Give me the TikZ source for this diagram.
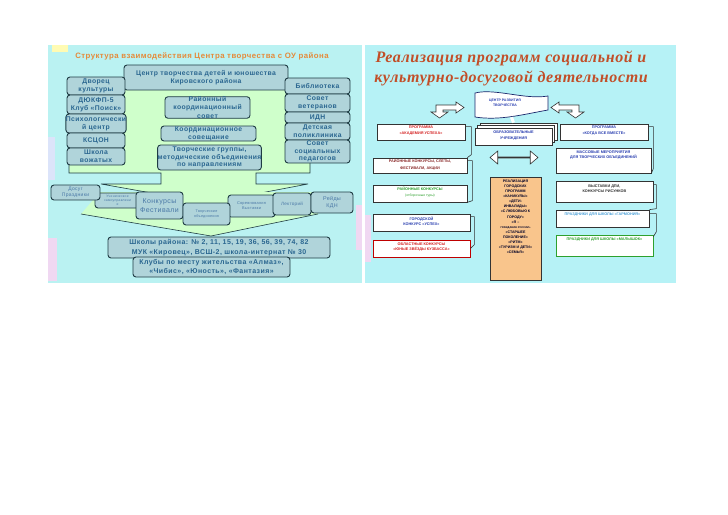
\documentclass[tikz,border=0pt]{standalone}
\usepackage{fontspec}
\setmainfont{Liberation Sans}
\newfontfamily\lsans[LetterSpace=6]{Liberation Sans}
\newfontfamily\rtfont[LetterSpace=4]{Liberation Serif}
\usetikzlibrary{shapes.arrows,shadows,calc}
\definecolor{cyanL}{HTML}{BAF2F2}
\definecolor{cyanR}{HTML}{B6F2F6}
\definecolor{greenA}{HTML}{CFFFCB}
\definecolor{boxfill}{HTML}{B0D4DA}
\definecolor{boxline}{HTML}{1F3C44}
\definecolor{boxtext}{HTML}{2A6690}
\definecolor{rowtext}{HTML}{4A78A6}
\definecolor{ttlorange}{HTML}{E58A3A}
\definecolor{rtitlec}{HTML}{C24E28}
\definecolor{rline}{HTML}{333333}
\definecolor{redtxt}{HTML}{D42020}
\definecolor{bluetxt}{HTML}{2A3FB0}
\definecolor{greentxt}{HTML}{2EA02E}
\definecolor{darkredtxt}{HTML}{8A2A2A}
\definecolor{ltblue}{HTML}{4AA0D8}
\definecolor{orangefill}{HTML}{F9C58C}
\definecolor{lav}{HTML}{F0D8F2}
\definecolor{lav2}{HTML}{DCE4FA}
\begin{document}
\begin{tikzpicture}[x=1pt,y=-1pt,
  lbox/.style={draw=boxline, fill=boxfill, rounded corners=3pt, line width=0.9pt, inner sep=0pt, align=center, text=boxtext, font=\lsans\fontsize{6.8}{7.8}\selectfont\bfseries},
  sbox/.style={lbox, text=rowtext, font=\lsans\fontsize{4}{4.6}\selectfont},
  rbox/.style={draw=rline, fill=white, line width=0.7pt, inner sep=0pt},
  rtxt/.style={inner sep=0pt, align=center, font=\fontsize{3.8}{5.2}\selectfont\bfseries},
  otext/.style={inner sep=0pt, align=center, text=black!85!blue, font=\fontsize{3.6}{5.1}\selectfont\bfseries},
  brk/.style={draw=rline, line width=0.6pt},
  hollow/.style={draw=rline, fill=white, line width=0.6pt}
]
\fill[white] (0,0) rectangle (728,514);
\useasboundingbox (0,0) rectangle (728,514);

% ================= LEFT PANEL =================
\fill[cyanL] (48,45) rectangle (362,283);
\fill[lav] (48,238) rectangle (57,281);
\fill[lav2] (48,137) rectangle (55,180);
\fill[lav] (356,205) rectangle (362,250);
\fill[yellow!30] (52,45) rectangle (68,52);

\node[inner sep=0pt, text=ttlorange, font=\lsans\fontsize{7.8}{9}\selectfont\bfseries] (lt) at (202,56) {Структура взаимодействия Центра творчества с ОУ района};

% green big arrow
\fill[greenA, draw=boxline, line width=0.6pt] (69,85) -- (310,85) -- (310,173) -- (256,173) -- (256,184) -- (308,184) -- (208,203) -- (101,184) -- (161,184) -- (161,173) -- (69,173) -- cycle;
% lower band and arrow head
\fill[greenA] (100,192) -- (318,192) -- (318,214) -- (81,214) -- cycle;
\fill[greenA] (81,214) -- (318,214) -- (211,236) -- cycle;
\draw[boxline, line width=0.6pt] (81,214) -- (211,236) -- (318,214);

\node[lbox, minimum width=164pt, minimum height=25pt] (ctr) at (206,77.5) {Центр творчества детей и юношества\\Кировского района};

% left column
\node[lbox, minimum width=58pt, minimum height=18pt] (dvorec) at (96,86) {Дворец\\культуры};
\node[lbox, minimum width=58pt, minimum height=19pt] (dyuk) at (96,104.5) {ДЮКФП-5\\Клуб «Поиск»};
\node[lbox, minimum width=58pt, minimum height=19pt] (psy) at (96,123.5) {Психологически\\й центр};
\node[lbox, minimum width=58pt, minimum height=15pt] (kscon) at (96,140.5) {КСЦОН};
\node[lbox, minimum width=58pt, minimum height=17pt] (vozh) at (96,156.5) {Школа\\вожатых};

% right column
\node[lbox, minimum width=65pt, minimum height=16pt] (bibl) at (317.5,86) {Библиотека};
\node[lbox, minimum width=65pt, minimum height=18pt] (vet) at (317.5,103) {Совет\\ветеранов};
\node[lbox, minimum width=65pt, minimum height=11pt] (idn) at (317.5,117.5) {ИДН};
\node[lbox, minimum width=65pt, minimum height=17pt] (detp) at (317.5,131.5) {Детская\\поликлиника};
\node[lbox, minimum width=65pt, minimum height=23pt, font=\lsans\fontsize{6.8}{7.7}\selectfont\bfseries] (socp) at (317.5,151.5) {Совет\\социальных\\педагогов};

% center column
\node[lbox, minimum width=85pt, minimum height=21pt, font=\lsans\fontsize{6.8}{8.2}\selectfont\bfseries] (rks) at (207.5,107.5) {Районный\\координационный\\совет};
\node[lbox, minimum width=95pt, minimum height=15pt] (kors) at (208.5,133.5) {Координационное\\совещание};
\node[lbox, minimum width=103pt, minimum height=25pt] (tvgr) at (209.5,157.5) {Творческие группы,\\методические объединения\\по направлениям};

% row of small boxes
\node[sbox, minimum width=45pt, minimum height=15pt, font=\lsans\fontsize{3.4}{4.1}\selectfont] (uchen) at (117.5,200.5) {Ученическое\\самоуправлени\\е};
\node[sbox, minimum width=49pt, minimum height=15pt, font=\lsans\fontsize{5}{6.2}\selectfont] (dosug) at (75.5,192.5) {Досуг\\Праздники};
\node[sbox, minimum width=47pt, minimum height=27pt, font=\lsans\fontsize{7}{8.4}\selectfont] (konk) at (159.5,205.5) {Конкурсы\\Фестивали};
\node[sbox, minimum width=47pt, minimum height=22pt, font=\lsans\fontsize{3.9}{5}\selectfont] (sorev) at (251.5,206) {Соревнования\\Выставки};
\node[sbox, minimum width=38pt, minimum height=22pt, font=\lsans\fontsize{4.6}{5.4}\selectfont] (lekt) at (292,204) {Лекторий};
\node[sbox, minimum width=42pt, minimum height=21pt, font=\lsans\fontsize{5.4}{6.6}\selectfont] (reid) at (332,202.5) {Рейды\\КДН};
\node[sbox, minimum width=47pt, minimum height=22pt, font=\lsans\fontsize{3.7}{4.8}\selectfont] (tvob) at (206.5,214) {Творческие\\объединения};

% bottom boxes
\node[lbox, minimum width=222pt, minimum height=21pt, font=\lsans\fontsize{7}{9.4}\selectfont\bfseries] (schools) at (219,247.5) {Школы района: № 2, 11, 15, 19, 36, 56, 39, 74, 82\\МУК «Кировец», ВСШ-2, школа-интернат № 30};
\node[lbox, minimum width=157pt, minimum height=20pt, font=\lsans\fontsize{7}{9.3}\selectfont\bfseries] (clubs) at (211.5,267) {Клубы по месту жительства «Алмаз»,\\«Чибис», «Юность», «Фантазия»};

% ================= RIGHT PANEL =================
\fill[cyanR] (365,45) rectangle (676,283);
\fill[lav] (365,215) rectangle (371,262);

\node[inner sep=0pt, text=rtitlec, font=\rtfont\fontsize{16}{18}\selectfont\bfseries\itshape] (rt1) at (511,58) {Реализация программ социальной и};
\node[inner sep=0pt, text=rtitlec, font=\rtfont\fontsize{16}{18}\selectfont\bfseries\itshape] (rt2) at (511,78) {культурно-досуговой деятельности};

% flag
\node[minimum width=73pt, minimum height=24pt, inner sep=0pt] (flag) at (511.5,105) {};
\draw[draw=bluetxt!60!black, fill=white, line width=0.7pt] (475,93) .. controls (495,88) and (525,100) .. (548,96) -- (548,110) .. controls (525,114) and (500,121) .. (475,117) -- cycle;
\node[rtxt, text=bluetxt, font=\fontsize{3.5}{5.4}\selectfont\bfseries] (flagt) at (505,103) {ЦЕНТР РАЗВИТИЯ\\ТВОРЧЕСТВА};

% bent hollow arrows
\draw[hollow] (456,105) -- (456,102) -- (464,107.5) -- (456,113) -- (456,110) -- (443,110) -- (443,112) -- (448,112) -- (439.5,118) -- (431,112) -- (436,112) -- (436,105) -- cycle;
\draw[hollow] (559,105) -- (559,102) -- (551,107.5) -- (559,113) -- (559,110) -- (572,110) -- (572,112) -- (567,112) -- (575.5,118) -- (584,112) -- (579,112) -- (579,105) -- cycle;

% educational institutions (stack)
\node[rbox, minimum width=77pt, minimum height=17pt, double copy shadow={shadow xshift=2.5pt, shadow yshift=2.5pt}] (obr) at (513.5,136.5) {};
\node[rtxt, text=bluetxt] (obrt) at (513.5,135.5) {ОБРАЗОВАТЕЛЬНЫЕ\\УЧРЕЖДЕНИЯ};
\draw[white, line width=3pt] (flag.south) -- ([yshift=5pt]obr.north);

% double arrow
\node[double arrow, draw=rline, fill=white, line width=0.6pt, minimum height=48pt, minimum width=13pt, double arrow head extend=3.5pt, double arrow tip angle=80, inner sep=0pt] (dbl) at (514,157.5) {};

% left column of programs
\node[rbox, minimum width=88pt, minimum height=16pt] (akad) at (421,132) {};
\node[rtxt, text=redtxt] at ([yshift=1.5pt]akad.center) {ПРОГРАММА\\«АКАДЕМИЯ УСПЕХА»};
\node[rbox, minimum width=94pt, minimum height=15pt] (slety) at (420,165.5) {};
\node[rtxt, text=darkredtxt, font=\fontsize{3.8}{6.2}\selectfont\bfseries] at ([yshift=0.8pt]slety.center) {РАЙОННЫЕ КОНКУРСЫ, СЛЁТЫ,\\ФЕСТИВАЛИ, АКЦИИ};
\node[rbox, minimum width=94pt, minimum height=17pt] (otbor) at (420,193.5) {};
\node[rtxt, text=greentxt, font=\fontsize{3.8}{6.2}\selectfont\bfseries] at ([yshift=1.2pt]otbor.center) {РАЙОННЫЕ КОНКУРСЫ\\{\mdseries\fontsize{3.4}{6.2}\selectfont (отборочные туры)}};
\node[rbox, minimum width=97pt, minimum height=17pt] (gorod) at (421.5,222.5) {};
\node[rtxt, text=bluetxt] at ([yshift=1.5pt]gorod.center) {ГОРОДСКОЙ\\КОНКУРС «УСПЕХ»};
\node[rbox, draw=red!75!black, minimum width=97pt, minimum height=17pt] (oblast) at (421.5,248.5) {};
\node[rtxt, text=redtxt] at ([yshift=1.8pt]oblast.center) {ОБЛАСТНЫЕ КОНКУРСЫ\\«ЮНЫЕ ЗВЁЗДЫ КУЗБАССА»};

% right column of programs
\node[rbox, minimum width=88pt, minimum height=16pt] (kogda) at (604,132) {};
\node[rtxt, text=bluetxt] at ([yshift=1.5pt]kogda.center) {ПРОГРАММА\\«КОГДА ВСЕ ВМЕСТЕ»};
\node[rbox, minimum width=95pt, minimum height=25pt] (massov) at (603.5,160.5) {};
\node[rtxt, text=bluetxt] at ([yshift=5.5pt]massov.center) {МАССОВЫЕ МЕРОПРИЯТИЯ\\ДЛЯ ТВОРЧЕСКИХ ОБЪЕДИНЕНИЙ};
\node[rbox, minimum width=97pt, minimum height=21pt] (vystav) at (604.5,191.5) {};
\node[rtxt, text=black!80] at ([yshift=3pt]vystav.center) {ВЫСТАВКИ ДПИ,\\КОНКУРСЫ РИСУНКОВ};
\node[rbox, minimum width=93pt, minimum height=17pt] (garm) at (602.5,218.5) {};
\node[rtxt, text=ltblue] at ([yshift=4pt]garm.center) {ПРАЗДНИКИ ДЛЯ ШКОЛЫ «ГАРМОНИЯ»};
\node[rbox, draw=greentxt, minimum width=97pt, minimum height=21pt] (malysh) at (604.5,245.5) {};
\node[rtxt, text=greentxt] at ([yshift=6pt]malysh.center) {ПРАЗДНИКИ ДЛЯ ШКОЛЫ «МАЛЫШОК»};

% orange box
\node[draw=rline, fill=orangefill, line width=0.7pt, minimum width=51pt, minimum height=103pt, inner sep=0pt] (orng) at (515.5,228.5) {};
\node[otext, anchor=north] at ([yshift=-3pt]orng.north) {РЕАЛИЗАЦИЯ\\ГОРОДСКИХ\\ПРОГРАММ\\«КАНИКУЛЫ»\\«ДЕТИ-\\ИНВАЛИДЫ»\\«С ЛЮБОВЬЮ К\\ГОРОДУ»\\«Я –\\{\fontsize{2.6}{5.1}\selectfont ГРАЖДАНИН РОССИИ»}\\«СТАРШЕЕ\\ПОКОЛЕНИЕ»\\«РИТМ»\\«ТУРИЗМ И ДЕТИ»\\«СЕМЬЯ»};

% brackets
\draw[brk] ([yshift=-3pt]akad.north east) -- ++(6,0) -- ++(0,28) -- (slety.north east);
\draw[brk] ([yshift=-3pt]slety.north east) -- ++(5,0) -- ++(0,40) -- (otbor.south east);
\draw[brk] ([yshift=-3pt]gorod.north east) -- ++(4,0) -- ++(0,28) -- (oblast.east);
\draw[brk] ([yshift=-3pt]kogda.north east) -- ++(5,0) -- ++(0,42) -- (massov.south east);
\draw[brk] ([yshift=-4pt]vystav.north east) -- ++(3,0) -- ++(0,24) -- (garm.north east);
\draw[brk] ([yshift=-4pt]garm.north east) -- ++(7,0) -- ++(0,18) -- ([yshift=-2pt]malysh.north east);
\end{tikzpicture}
\end{document}
